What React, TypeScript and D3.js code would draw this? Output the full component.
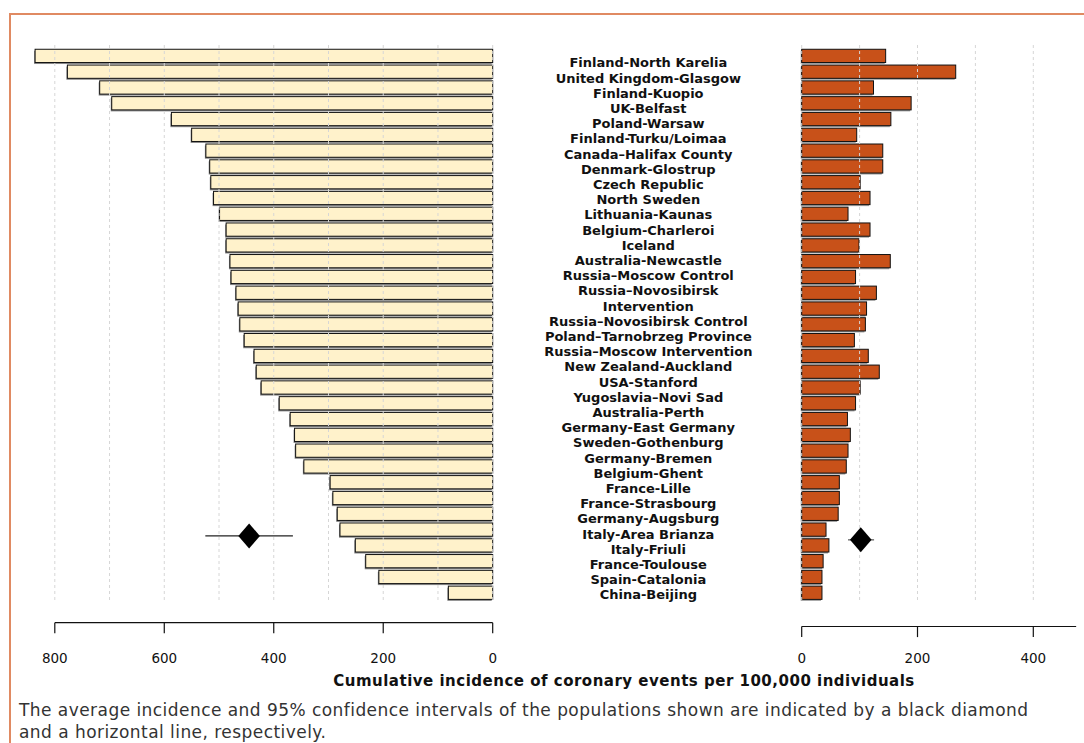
import React from "react";
import * as d3 from "d3";

// populations, top to bottom ("\n" marks where the label wraps)
const categories = [
  "Finland-North Karelia",
  "United Kingdom-Glasgow",
  "Finland-Kuopio",
  "UK-Belfast",
  "Poland-Warsaw",
  "Finland-Turku/Loimaa",
  "Canada–Halifax County",
  "Denmark-Glostrup",
  "Czech Republic",
  "North Sweden",
  "Lithuania-Kaunas",
  "Belgium-Charleroi",
  "Iceland",
  "Australia-Newcastle",
  "Russia–Moscow Control",
  "Russia–Novosibirsk\nIntervention",
  "Russia–Novosibirsk Control",
  "Poland–Tarnobrzeg Province",
  "Russia–Moscow Intervention",
  "New Zealand-Auckland",
  "USA-Stanford",
  "Yugoslavia–Novi Sad",
  "Australia-Perth",
  "Germany-East Germany",
  "Sweden-Gothenburg",
  "Germany-Bremen",
  "Belgium-Ghent",
  "France-Lille",
  "France-Strasbourg",
  "Germany-Augsburg",
  "Italy-Area Brianza",
  "Italy-Friuli",
  "France-Toulouse",
  "Spain-Catalonia",
  "China-Beijing",
];

// left panel (drawn right to left)
const leftValues = [
  836, 777, 718, 696, 587, 550, 524, 517, 515, 510, 499, 487, 487, 480, 478,
  469, 465, 462, 454, 436, 432, 423, 390, 370, 362, 360, 345, 297, 292, 284,
  279, 251, 232, 208, 81,
];

// right panel
const rightValues = [
  145, 266, 124, 189, 154, 95, 140, 140, 101, 118, 80, 118, 99, 153, 93, 129,
  112, 110, 91, 115, 134, 101, 93, 79, 84, 80, 77, 65, 65, 63, 42, 47, 37, 35,
  35,
];

const leftTicks = [800, 600, 400, 200, 0];
const rightTicks = [0, 200, 400];

// average and 95% CI; row = fractional row position of the diamond
const leftSummary = { mean: 445, lo: 365, hi: 525, row: 30.4 };
const rightSummary = { mean: 102, lo: 80, hi: 125, row: 30.65 };

const caption = [
  "The average incidence and 95% confidence intervals of the populations shown are indicated by a black diamond",
  "and a horizontal line, respectively.",
];

const W = 1084;
const H = 743;

const App: React.FC = () => {
  const y = d3
    .scaleBand<number>()
    .domain(d3.range(categories.length))
    .range([48, 48 + 35 * 15.79])
    .paddingInner(0.16)
    .paddingOuter(0.08);

  const xL = d3.scaleLinear().domain([0, 800]).range([492.7, 54.8]);
  const xR = d3.scaleLinear().domain([0, 400]).range([801.7, 1033.3]);

  const labelLines = categories.flatMap((c) => c.split("\n"));
  const ly = d3
    .scaleLinear()
    .domain([0, labelLines.length - 1])
    .range([62.7, 594.7]);

  const rowY = (r: number) => (y(0) as number) + y.bandwidth() / 2 + r * y.step();

  const diamond = (cx: number, cy: number) =>
    d3.line()([
      [cx, cy - 12.5],
      [cx + 10.8, cy],
      [cx, cy + 12.5],
      [cx - 10.8, cy],
      [cx, cy - 12.5],
    ]) as string;

  const gridTop = 45;
  const gridBottom = 602;
  const axisLY = 622.7;
  const axisRY = 626.5;

  const lY = rowY(leftSummary.row);
  const rY = rowY(rightSummary.row);

  return (
    <svg
      width={W}
      height={H}
      style={{ position: "absolute", left: 0, top: 0, fontFamily: "DejaVu Sans" }}
    >
      <rect width={W} height={H} fill="#fff" />
      <path d={`M10,${H + 5}V14H${W + 5}`} fill="none" stroke="#e08a62" strokeWidth={2} />

      {/* left bars */}
      <g>
        {leftValues.map((v, i) => (
          <g key={i}>
            <rect
              x={xL(v) - 1}
              y={(y(i) as number) + 1.5}
              width={xL(0) - xL(v)}
              height={y.bandwidth()}
              fill="#8a8a8a"
            />
            <rect
              x={xL(v)}
              y={y(i)}
              width={xL(0) - xL(v)}
              height={y.bandwidth()}
              fill="#fff2cb"
              stroke="#111"
              strokeWidth={1}
            />
          </g>
        ))}
      </g>

      {/* right bars */}
      <g>
        {rightValues.map((v, i) => (
          <g key={i}>
            <rect
              x={xR(0) - 1}
              y={(y(i) as number) + 1.5}
              width={xR(v) - xR(0)}
              height={y.bandwidth()}
              fill="#a0a0a0"
            />
            <rect
              x={xR(0)}
              y={y(i)}
              width={xR(v) - xR(0)}
              height={y.bandwidth()}
              fill="#c85119"
              stroke="#111"
              strokeWidth={1}
            />
          </g>
        ))}
      </g>

      {/* grid lines on top */}
      <g stroke="#d6d6d6" strokeDasharray="3,3" strokeWidth={1}>
        {d3.range(0, 801, 100).map((t) => (
          <line key={"l" + t} x1={xL(t)} x2={xL(t)} y1={gridTop} y2={gridBottom} />
        ))}
        {d3.range(0, 401, 100).map((t) => (
          <line key={"r" + t} x1={xR(t)} x2={xR(t)} y1={gridTop} y2={gridBottom} />
        ))}
      </g>

      {/* summary markers */}
      <line x1={xL(leftSummary.lo)} x2={xL(leftSummary.hi)} y1={lY} y2={lY} stroke="#222" strokeWidth={1.2} />
      <path d={diamond(xL(leftSummary.mean), lY)} fill="#000" />
      <line x1={xR(rightSummary.lo)} x2={xR(rightSummary.hi)} y1={rY} y2={rY} stroke="#555" strokeWidth={1.2} />
      <path d={diamond(xR(rightSummary.mean), rY)} fill="#000" />

      {/* category labels */}
      <g fontWeight="bold" fontSize={13} textAnchor="middle" fill="#111">
        {labelLines.map((t, i) => (
          <text key={i} x={648.3} y={ly(i)} dy="0.36em">
            {t}
          </text>
        ))}
      </g>

      {/* axes */}
      <g stroke="#111" strokeWidth={1.2} fill="none">
        <line x1={xL(0)} x2={xL(800)} y1={axisLY} y2={axisLY} />
        {leftTicks.map((t) => (
          <line key={t} x1={xL(t)} x2={xL(t)} y1={axisLY} y2={axisLY + 10.6} />
        ))}
        <line x1={xR(0)} x2={xR(474)} y1={axisRY} y2={axisRY} />
        {rightTicks.map((t) => (
          <line key={t} x1={xR(t)} x2={xR(t)} y1={axisRY} y2={axisRY + 10.6} />
        ))}
      </g>
      <g fontSize={13.5} textAnchor="middle" fill="#111">
        {leftTicks.map((t) => (
          <text key={"l" + t} x={xL(t)} y={663}>
            {t}
          </text>
        ))}
        {rightTicks.map((t) => (
          <text key={"r" + t} x={xR(t)} y={663}>
            {t}
          </text>
        ))}
      </g>
      <text
        x={624}
        y={686}
        fontSize={15}
        letterSpacing={0.5}
        fontWeight="bold"
        textAnchor="middle"
        fill="#111"
      >
        Cumulative incidence of coronary events per 100,000 individuals
      </text>

      {/* caption */}
      <g fontSize={17} letterSpacing={0.45} fill="#333">
        {caption.map((c, i) => (
          <text key={i} x={19} y={716 + i * 22}>
            {c}
          </text>
        ))}
      </g>
    </svg>
  );
};

export default App;
